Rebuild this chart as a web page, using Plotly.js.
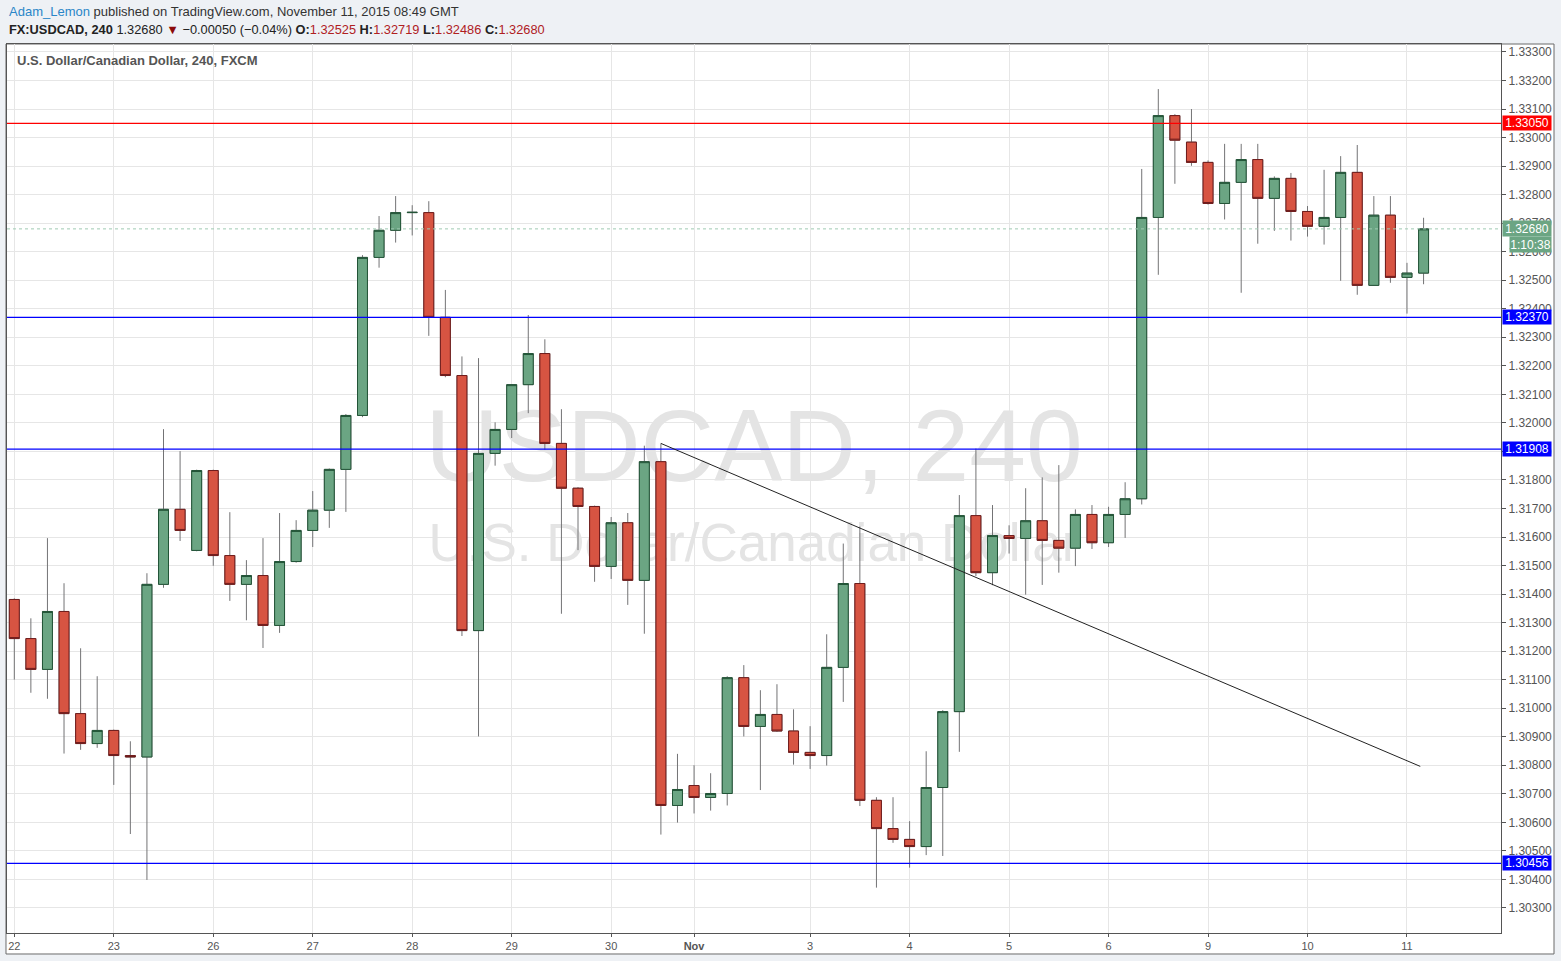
<!DOCTYPE html>
<html>
<head>
<meta charset="utf-8">
<script src="https://cdn.plot.ly/plotly-3.0.1.min.js"></script>
<style>
  html, body { margin: 0; padding: 0; background: #eef1f5; }
  #chart { width: 1561px; height: 961px; }
</style>
</head>
<body>
<div id="chart"></div>
<script>
// ---- Data (USDCAD, 240-minute candles, Oct 22 - Nov 11 2015) ----
const opens = [
  1.31381, 1.31244, 1.31136, 1.31339, 1.30981, 1.30876, 1.30922, 1.30834, 1.30829, 1.31434,
  1.31697, 1.31553, 1.31833, 1.31535, 1.31434, 1.31465, 1.31290, 1.31514, 1.31623, 1.31694,
  1.31837, 1.32026, 1.32580, 1.32675, 1.32737, 1.32737, 1.32370, 1.32166, 1.31272, 1.31893,
  1.31977, 1.32134, 1.32243, 1.31928, 1.31771, 1.31707, 1.31497, 1.31650, 1.31448, 1.31864,
  1.30659, 1.30729, 1.30687, 1.30701, 1.31107, 1.30936, 1.30978, 1.30920, 1.30845, 1.30834,
  1.31143, 1.31437, 1.30677, 1.30578, 1.30540, 1.30515, 1.30722, 1.30988, 1.31675, 1.31475,
  1.31605, 1.31595, 1.31657, 1.31588, 1.31561, 1.31679, 1.31580, 1.31679, 1.31734, 1.32720,
  1.33077, 1.32984, 1.32913, 1.32769, 1.32843, 1.32923, 1.32787, 1.32857, 1.32741, 1.32689,
  1.32720, 1.32878, 1.32482, 1.32728, 1.32510, 1.32525
];
const highs = [
  1.31385, 1.31315, 1.31596, 1.31438, 1.31210, 1.31112, 1.30925, 1.30884, 1.31473, 1.31978,
  1.31901, 1.31836, 1.31836, 1.31687, 1.31519, 1.31596, 1.31684, 1.31659, 1.31761, 1.31840,
  1.32031, 1.32588, 1.32725, 1.32795, 1.32763, 1.32777, 1.32466, 1.32233, 1.32227, 1.32002,
  1.32136, 1.32378, 1.32293, 1.32048, 1.31775, 1.31710, 1.31670, 1.31684, 1.31920, 1.31928,
  1.30840, 1.30800, 1.30772, 1.31112, 1.31151, 1.31063, 1.31084, 1.30996, 1.30937, 1.31259,
  1.31577, 1.31637, 1.30688, 1.30688, 1.30604, 1.30849, 1.30993, 1.31747, 1.31910, 1.31712,
  1.31641, 1.31771, 1.31809, 1.31852, 1.31697, 1.31712, 1.31706, 1.31792, 1.32890, 1.33170,
  1.33082, 1.33100, 1.32920, 1.32978, 1.32978, 1.32978, 1.32864, 1.32876, 1.32760, 1.32887,
  1.32935, 1.32974, 1.32795, 1.32795, 1.32561, 1.32719
];
const lows = [
  1.31100, 1.31054, 1.31033, 1.30841, 1.30854, 1.30861, 1.30731, 1.30559, 1.30398, 1.31422,
  1.31586, 1.31550, 1.31499, 1.31376, 1.31308, 1.31211, 1.31264, 1.31510, 1.31565, 1.31632,
  1.31688, 1.32020, 1.32544, 1.32632, 1.32657, 1.32305, 1.32160, 1.31253, 1.30901, 1.31850,
  1.31947, 1.32034, 1.31906, 1.31331, 1.31554, 1.31443, 1.31453, 1.31362, 1.31261, 1.30557,
  1.30599, 1.30631, 1.30641, 1.30659, 1.30901, 1.30713, 1.30917, 1.30802, 1.30787, 1.30799,
  1.31022, 1.30657, 1.30371, 1.30528, 1.30441, 1.30485, 1.30482, 1.30847, 1.31463, 1.31431,
  1.31542, 1.31398, 1.31432, 1.31475, 1.31498, 1.31558, 1.31565, 1.31597, 1.31714, 1.32519,
  1.32838, 1.32901, 1.32765, 1.32713, 1.32456, 1.32628, 1.32673, 1.32639, 1.32653, 1.32625,
  1.32498, 1.32449, 1.32480, 1.32491, 1.32383, 1.32486
];
const closes = [
  1.31244, 1.31136, 1.31339, 1.30981, 1.30876, 1.30922, 1.30834, 1.30829, 1.31434, 1.31697,
  1.31623, 1.31833, 1.31535, 1.31434, 1.31465, 1.31290, 1.31514, 1.31623, 1.31694, 1.31837,
  1.32026, 1.32580, 1.32675, 1.32737, 1.32738, 1.32370, 1.32166, 1.31272, 1.31893, 1.31977,
  1.32134, 1.32243, 1.31928, 1.31771, 1.31707, 1.31497, 1.31650, 1.31448, 1.31864, 1.30659,
  1.30715, 1.30687, 1.30701, 1.31107, 1.30936, 1.30978, 1.30920, 1.30845, 1.30834, 1.31143,
  1.31437, 1.30677, 1.30578, 1.30540, 1.30515, 1.30722, 1.30988, 1.31675, 1.31475, 1.31605,
  1.31595, 1.31657, 1.31588, 1.31561, 1.31679, 1.31580, 1.31679, 1.31734, 1.32720, 1.33077,
  1.32991, 1.32913, 1.32769, 1.32843, 1.32923, 1.32787, 1.32857, 1.32741, 1.32689, 1.32720,
  1.32878, 1.32482, 1.32728, 1.32510, 1.32525, 1.32680
];

// Day ticks (candle index where each day starts) and their labels
const tickIdx = [0, 6, 12, 18, 24, 30, 36, 41, 48, 54, 60, 66, 72, 78, 84];
const tickLabels = ['22', '23', '26', '27', '28', '29', '30', '<b>Nov</b>', '3', '4', '5', '6', '9', '10', '11'];

// Horizontal levels drawn on the chart
const levelValues = [1.33050, 1.32370, 1.31908, 1.30456];
const levelColors = ['#ff0000', '#0000ff', '#0000ff', '#0000ff'];

// Trend line (candle index, price)
const trendX = [39, 84.8];
const trendY = [1.31928, 1.30796];

const lastPrice = 1.32680;
const countdown = '1:10:38';

// ---- Build ----
const xs = opens.map((_, i) => i);
const bodyHi = opens.map((o, i) => Math.max(o, closes[i]));
const bodyLo = opens.map((o, i) => Math.min(o, closes[i]));

const xRange = [-0.44, 89.67];
const yRange = [1.30212, 1.33328];

const UP = '#6ba583', DOWN = '#d75442', UPB = '#225437', DOWNB = '#6f1c1c', WICK = '#737375';

const wicks = {
  type: 'candlestick', x: xs, open: opens, high: highs, low: lows, close: closes,
  xaxis: 'x2', yaxis: 'y2', whiskerwidth: 0,
  increasing: { line: { color: WICK, width: 1 }, fillcolor: UP },
  decreasing: { line: { color: WICK, width: 1 }, fillcolor: DOWN },
  hoverinfo: 'skip', showlegend: false
};
const bodies = {
  type: 'candlestick', x: xs, open: opens, high: bodyHi, low: bodyLo, close: closes,
  xaxis: 'x2', yaxis: 'y2', whiskerwidth: 0,
  increasing: { line: { color: UPB, width: 1 }, fillcolor: UP },
  decreasing: { line: { color: DOWNB, width: 1 }, fillcolor: DOWN },
  hoverinfo: 'skip', showlegend: false
};

const xMid = (xRange[0] + xRange[1]) / 2;
const yAt = f => yRange[0] + f * (yRange[1] - yRange[0]);
const watermark = {
  type: 'scatter', mode: 'text', xaxis: 'x', yaxis: 'y',
  x: [xMid, xMid], y: [yAt(0.5373), yAt(0.4336)],
  text: ['USDCAD, 240', 'U.S. Dollar/Canadian Dollar'],
  textposition: 'middle center',
  textfont: { family: 'Liberation Sans, Arial, sans-serif', size: [102, 53], color: '#e4e4e4' },
  hoverinfo: 'skip', showlegend: false
};

const shapes = [];
// white chart panel
shapes.push({ type: 'rect', xref: 'paper', yref: 'paper', x0: -0.00067, x1: 1.03548, y0: -0.02362, y1: 1.0,
  fillcolor: '#ffffff', line: { color: '#6b6b6b', width: 1 }, layer: 'below' });
levelValues.forEach((v, i) => {
  shapes.push({ type: 'line', xref: 'paper', yref: 'y', x0: 0, x1: 1, y0: v, y1: v,
    line: { color: levelColors[i], width: 1.3 }, layer: 'above' });
});
shapes.push({ type: 'line', xref: 'paper', yref: 'y', x0: 0, x1: 1, y0: lastPrice, y1: lastPrice,
  line: { color: '#9fcbb2', width: 1, dash: 'dot' }, layer: 'above' });
shapes.push({ type: 'line', xref: 'x', yref: 'y', x0: trendX[0], x1: trendX[1], y0: trendY[0], y1: trendY[1],
  line: { color: '#222222', width: 1 }, layer: 'above' });

const FONT = 'Liberation Sans, Arial, sans-serif';
const annotations = [];
levelValues.forEach((v, i) => {
  annotations.push({ xref: 'paper', yref: 'y', x: 1, y: v, xanchor: 'left', yanchor: 'middle', xshift: 1,
    text: v.toFixed(5), showarrow: false, bgcolor: levelColors[i], width: 48, height: 14, borderpad: 0,
    font: { family: FONT, size: 12, color: '#ffffff' } });
});
annotations.push({ xref: 'paper', yref: 'y', x: 1, y: lastPrice, xanchor: 'left', yanchor: 'middle', xshift: 1,
  text: lastPrice.toFixed(5), showarrow: false, bgcolor: UP, width: 48, height: 15, borderpad: 0,
  font: { family: FONT, size: 12, color: '#ffffff' } });
annotations.push({ xref: 'paper', yref: 'y', x: 1, y: lastPrice, xanchor: 'left', yanchor: 'middle', xshift: 8, yshift: -16,
  text: countdown, showarrow: false, bgcolor: UP, width: 41, height: 15, borderpad: 0,
  font: { family: FONT, size: 12, color: '#ffffff' } });
// header
annotations.push({ xref: 'paper', yref: 'paper', x: 0, y: 1.03712, xanchor: 'left', yanchor: 'middle', showarrow: false,
  text: '<span style="color:#2a86c8">Adam_Lemon</span> published on TradingView.com, November 11, 2015 08:49 GMT',
  font: { family: FONT, size: 13, color: '#333333' } });
const red = s => '<span style="color:#b0201f">' + s + '</span>';
annotations.push({ xref: 'paper', yref: 'paper', x: 0, y: 1.01687, xanchor: 'left', yanchor: 'middle', showarrow: false,
  text: '<b>FX:USDCAD, 240</b> 1.32680 <span style="color:#8b0a0a">▼</span> −0.00050 (−0.04%) <b>O:</b>' + red('1.32525') +
        ' <b>H:</b>' + red('1.32719') + ' <b>L:</b>' + red('1.32486') + ' <b>C:</b>' + red('1.32680'),
  font: { family: FONT, size: 12.8, color: '#222222' } });
annotations.push({ xref: 'paper', yref: 'paper', x: 0.00535, y: 0.982, xanchor: 'left', yanchor: 'middle', showarrow: false,
  text: '<b>U.S. Dollar/Canadian Dollar, 240, FXCM</b>',
  font: { family: FONT, size: 13, color: '#555555' } });

const layout = {
  width: 1561, height: 961, autosize: false,
  margin: { l: 7, r: 60, t: 44, b: 28, pad: 0 },
  paper_bgcolor: '#eef1f5', plot_bgcolor: 'rgba(0,0,0,0)',
  showlegend: false, boxgap: 0.4, boxgroupgap: 0, boxmode: 'overlay',
  xaxis: {
    range: xRange, tickmode: 'array', tickvals: tickIdx, ticktext: tickLabels,
    showgrid: true, gridcolor: '#e6e6e6', gridwidth: 1, zeroline: false,
    ticks: 'outside', ticklen: 3, tickcolor: '#555555',
    showline: true, linecolor: '#555555', linewidth: 1, mirror: true,
    tickfont: { family: 'Liberation Sans Narrow, Liberation Sans, Arial, sans-serif', size: 11, color: '#555555' },
    rangeslider: { visible: false }, fixedrange: true
  },
  yaxis: {
    range: yRange, side: 'right', tick0: 1.3, dtick: 0.001, tickformat: '.5f',
    showgrid: true, gridcolor: '#e6e6e6', gridwidth: 1, zeroline: false,
    ticks: 'outside', ticklen: 4, tickcolor: '#555555',
    showline: true, linecolor: '#555555', linewidth: 1, mirror: true,
    tickfont: { family: FONT, size: 12, color: '#555555' }, fixedrange: true
  },
  xaxis2: { overlaying: 'x', anchor: 'y2', range: xRange, visible: false, rangeslider: { visible: false }, fixedrange: true },
  yaxis2: { overlaying: 'y', anchor: 'x2', range: yRange, visible: false, fixedrange: true },
  shapes: shapes, annotations: annotations
};

Plotly.newPlot('chart', [watermark, wicks, bodies], layout, { displayModeBar: false, staticPlot: true });
</script>
</body>
</html>
